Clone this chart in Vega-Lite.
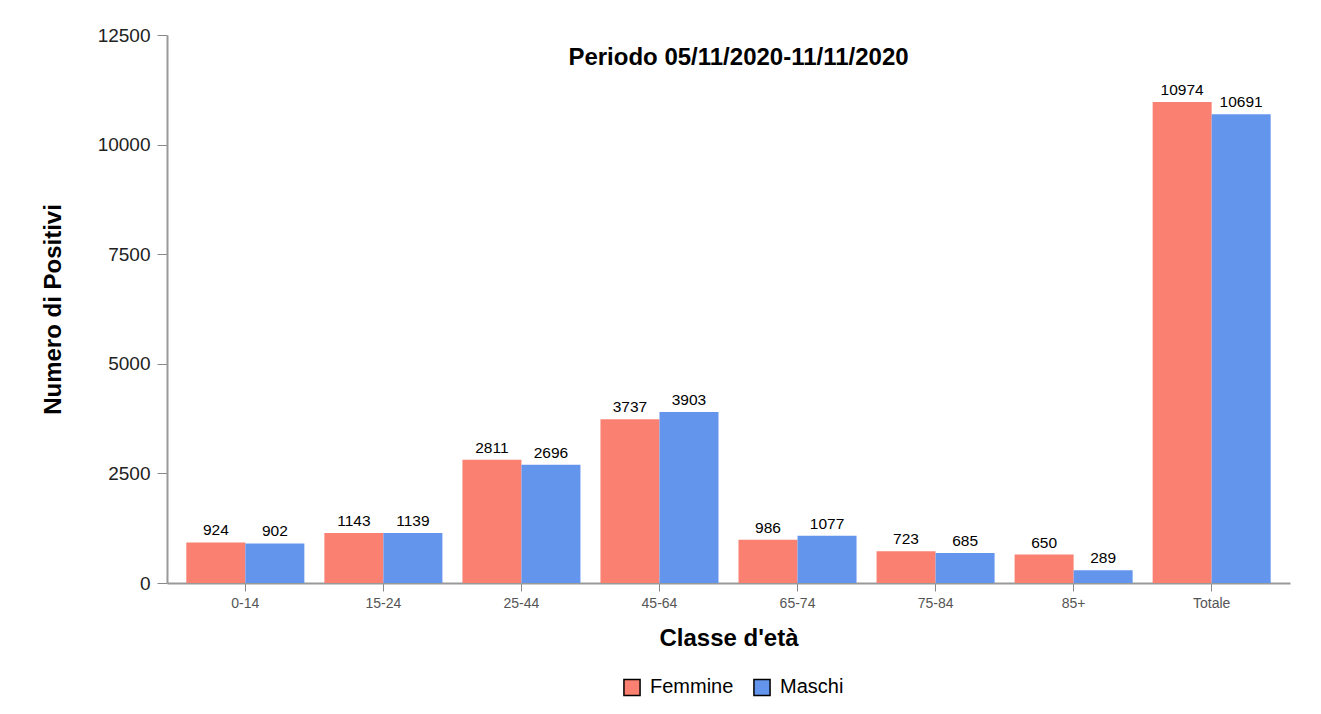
{
  "$schema": "https://vega.github.io/schema/vega-lite/v6.json",
  "description": "Numero di positivi per classe d'eta e sesso",
  "autosize": "none",
  "width": 1123,
  "height": 548,
  "padding": {"left": 167, "top": 35, "right": 31, "bottom": 131},
  "background": "white",
  "title": {
    "text": "Periodo 05/11/2020-11/11/2020",
    "font": "Liberation Sans",
    "fontSize": 24,
    "fontWeight": "bold",
    "color": "black",
    "anchor": "middle",
    "offset": -44,
    "dx": 10
  },
  "data": {
    "values": [
      {"classe": "0-14", "sesso": "Femmine", "positivi": 924},
      {"classe": "0-14", "sesso": "Maschi", "positivi": 902},
      {"classe": "15-24", "sesso": "Femmine", "positivi": 1143},
      {"classe": "15-24", "sesso": "Maschi", "positivi": 1139},
      {"classe": "25-44", "sesso": "Femmine", "positivi": 2811},
      {"classe": "25-44", "sesso": "Maschi", "positivi": 2696},
      {"classe": "45-64", "sesso": "Femmine", "positivi": 3737},
      {"classe": "45-64", "sesso": "Maschi", "positivi": 3903},
      {"classe": "65-74", "sesso": "Femmine", "positivi": 986},
      {"classe": "65-74", "sesso": "Maschi", "positivi": 1077},
      {"classe": "75-84", "sesso": "Femmine", "positivi": 723},
      {"classe": "75-84", "sesso": "Maschi", "positivi": 685},
      {"classe": "85+", "sesso": "Femmine", "positivi": 650},
      {"classe": "85+", "sesso": "Maschi", "positivi": 289},
      {"classe": "Totale", "sesso": "Femmine", "positivi": 10974},
      {"classe": "Totale", "sesso": "Maschi", "positivi": 10691}
    ]
  },
  "encoding": {
    "x": {
      "field": "classe",
      "type": "nominal",
      "sort": null,
      "title": "Classe d'età",
      "scale": {"paddingInner": 0.145, "paddingOuter": 0.14},
      "axis": {
        "labelAngle": 0,
        "labelFont": "Liberation Sans",
        "labelFontSize": 14,
        "labelColor": "#555555",
        "labelPadding": 5,
        "tickSize": 8,
        "tickColor": "#888888",
        "domainColor": "#999999",
        "domainWidth": 2,
        "titleFont": "Liberation Sans",
        "titleFontSize": 24,
        "titleFontWeight": "bold",
        "titleColor": "black",
        "titlePadding": 16
      }
    },
    "xOffset": {"field": "sesso", "type": "nominal", "scale": {"paddingInner": 0}},
    "y": {
      "field": "positivi",
      "type": "quantitative",
      "title": "Numero di Positivi",
      "scale": {"domain": [0, 12500], "nice": false},
      "axis": {
        "values": [0, 2500, 5000, 7500, 10000, 12500],
        "format": "d",
        "grid": false,
        "labelFont": "Liberation Sans",
        "labelFontSize": 19,
        "labelColor": "#222222",
        "labelPadding": 7,
        "tickSize": 10,
        "tickColor": "#888888",
        "domainColor": "#999999",
        "domainWidth": 2,
        "titleFont": "Liberation Sans",
        "titleFontSize": 24,
        "titleFontWeight": "bold",
        "titleColor": "black",
        "titlePadding": 32
      }
    }
  },
  "layer": [
    {
      "mark": {"type": "bar"},
      "encoding": {
        "color": {
          "field": "sesso",
          "type": "nominal",
          "title": null,
          "scale": {"domain": ["Femmine", "Maschi"], "range": ["#FA8072", "#6495ED"]},
          "legend": {
            "orient": "none",
            "legendX": 455,
            "legendY": 642,
            "direction": "horizontal",
            "symbolType": "square",
            "symbolSize": 260,
            "symbolStrokeColor": "black",
            "symbolStrokeWidth": 1.5,
            "labelFont": "Liberation Sans",
            "labelFontSize": 20,
            "labelColor": "black",
            "labelOffset": 8,
            "columnPadding": 16
          }
        }
      }
    },
    {
      "mark": {
        "type": "text",
        "baseline": "bottom",
        "dy": -4,
        "font": "Liberation Sans",
        "fontSize": 15.5,
        "color": "black"
      },
      "encoding": {
        "text": {"field": "positivi", "type": "quantitative", "format": "d"}
      }
    }
  ],
  "config": {"view": {"stroke": null}}
}
